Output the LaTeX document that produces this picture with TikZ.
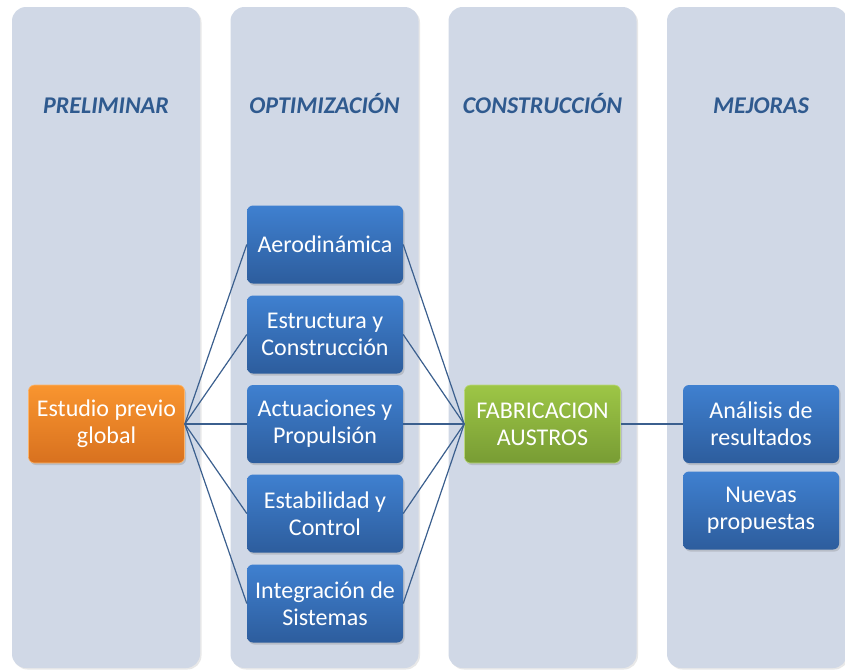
\documentclass[tikz,border=0pt]{standalone}
\usepackage{fontspec}
\setmainfont{Carlito}
\usetikzlibrary{shadows}
\definecolor{colfill}{HTML}{D0D8E6}
\definecolor{hdr}{HTML}{2F5A8F}
\definecolor{linec}{HTML}{3B5F8E}
\definecolor{blueT}{HTML}{3F80D0}
\definecolor{blueB}{HTML}{2D5D9D}
\definecolor{orT}{HTML}{F9952F}
\definecolor{orB}{HTML}{D8711F}
\definecolor{grT}{HTML}{9DC646}
\definecolor{grB}{HTML}{789C34}
\begin{document}
\begin{tikzpicture}[x=1pt,y=-1pt,
  column/.style={fill=colfill, rounded corners=14pt, inner sep=0pt,
    drop shadow={opacity=0.18, shadow xshift=1.5pt, shadow yshift=-1.5pt}},
  hdrtext/.style={text=hdr, anchor=base, font=\fontsize{24}{28}\selectfont\bfseries\itshape},
  box/.style={rounded corners=6pt, minimum width=156pt, minimum height=78pt,
    align=center, text=white, inner sep=0pt,
    font=\fontsize{24}{27}\selectfont,
    drop shadow={opacity=0.3, shadow xshift=1.5pt, shadow yshift=-2pt}},
  bluebox/.style={box, top color=blueT, bottom color=blueB},
  orbox/.style={box, top color=orT, bottom color=orB, draw=orT!70!white, line width=0.6pt},
  grbox/.style={box, top color=grT, bottom color=grB, draw=grT!70!white, line width=0.6pt},
  conn/.style={draw=linec, line width=1.2pt}]
\useasboundingbox (0,0) rectangle (845,670);
% columns
\node[column, minimum width=188pt, minimum height=661pt] (c1) at (106,337.5) {};
\node[column, minimum width=188pt, minimum height=661pt] (c2) at (324.5,337.5) {};
\node[column, minimum width=188pt, minimum height=661pt] (c3) at (542.5,337.5) {};
\node[column, minimum width=180pt, minimum height=661pt] (c4) at (757,337.5) {};
% headers
\node[hdrtext] (h1) at (106,113) {PRELIMINAR};
\node[hdrtext] (h2) at (324.5,113) {OPTIMIZACIÓN};
\node[hdrtext] (h3) at (542.5,113) {CONSTRUCCIÓN};
\node[hdrtext] (h4) at (761,113) {MEJORAS};
% boxes
\node[orbox] (est) at (106.5,424) {Estudio previo\\global};
\node[bluebox] (aer) at (325,244.5) {Aerodinámica};
\node[bluebox] (estr) at (325,334.5) {Estructura y\\Construcción};
\node[bluebox] (act) at (325,424) {Actuaciones y\\Propulsión};
\node[bluebox] (stab) at (325,513.5) {Estabilidad y\\Control};
\node[bluebox] (integ) at (325,603.5) {Integración de\\Sistemas};
\node[grbox] (fab) at (542.5,424) {FABRICACION\\AUSTROS};
\node[bluebox] (ana) at (761,424) {Análisis de\\resultados};
\node[bluebox] (nue) at (761,510.5) {Nuevas\\propuestas};
% connectors
\foreach \n in {aer,estr,act,stab,integ}{
  \draw[conn] (est.east) -- (\n.west);
  \draw[conn] (\n.east) -- (fab.west);
}
\draw[conn] (fab.east) -- (ana.west);
\end{tikzpicture}
\end{document}
